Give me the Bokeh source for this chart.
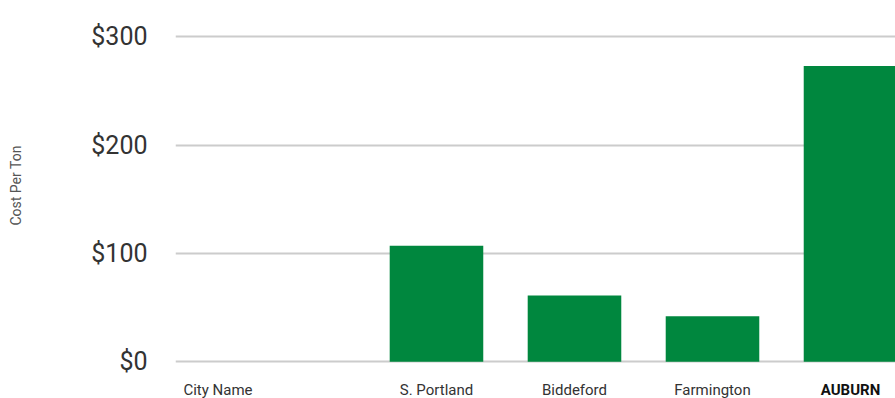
from bokeh.plotting import figure
from bokeh.models import ColumnDataSource, Range1d, FixedTicker, Title
from bokeh.core.properties import value
from bokeh.embed import file_html
from bokeh.resources import INLINE

# ---- data ----
header_label = "City Name"
cities = ["S. Portland", "Biddeford", "Farmington", "AUBURN"]
cost_per_ton = [107, 61, 42, 273]
highlight_city = "AUBURN"
y_ticks = [0, 100, 200, 300]
y_tick_labels = ["$0", "$100", "$200", "$300"]
y_title = "Cost Per Ton"

FONT = "Roboto"
GREEN = "#00873E"

PX_PER_UNIT = 325 / 300.0          # vertical scale of the reference
label_row = -28 / PX_PER_UNIT       # category labels sit ~28px below $0

xs = list(range(len(cities)))
src = ColumnDataSource(dict(x=xs, top=cost_per_ton))

p = figure(width=895, height=398, output_backend="svg", toolbar_location=None,
           x_axis_location=None,
           x_range=Range1d(-1.891, len(cities) - 1 + 0.326),
           y_range=Range1d(-34, 302),
           min_border_left=175, min_border_right=0,
           min_border_top=34, min_border_bottom=0)

p.vbar(x="x", top="top", width=0.678, bottom=0, source=src,
       fill_color=GREEN, line_color=None)

p.outline_line_color = None
p.background_fill_color = "white"
p.border_fill_color = "white"

# y axis
p.yaxis.ticker = FixedTicker(ticks=y_ticks)
p.yaxis.major_label_overrides = {t: l for t, l in zip(y_ticks, y_tick_labels)}
p.yaxis.axis_line_color = None
p.yaxis.major_tick_line_color = None
p.yaxis.minor_tick_line_color = None
p.yaxis.major_label_text_font = FONT
p.yaxis.major_label_text_font_size = "25px"
p.yaxis.major_label_text_color = "#333333"
p.yaxis.major_label_standoff = 22
# blank spacer label widens the axis panel so the title sits at the far left
p.yaxis.axis_label = "\u2009"
p.yaxis.axis_label_text_font_size = "14px"
p.yaxis.axis_label_standoff = 41

p.xgrid.grid_line_color = None
p.ygrid.ticker = FixedTicker(ticks=y_ticks)
p.ygrid.grid_line_color = "#cccccc"
p.ygrid.grid_line_width = 2

# y title
p.add_layout(Title(text=y_title, align="left", offset=173, standoff=10,
                   text_font=FONT, text_font_size="14px",
                   text_font_style="normal", text_color="#555555"), "left")

# category labels (row under the bars)
header_pos = -1.583
normal = [c for c in cities if c != highlight_city]
p.text(x=[header_pos] + [cities.index(c) for c in normal],
       y=[label_row] * (len(normal) + 1),
       text=[header_label] + normal,
       text_align="center", text_baseline="middle",
       text_font=value(FONT), text_font_size=value("15px"), text_color="#333333")
p.text(x=[cities.index(highlight_city)], y=[label_row], text=[highlight_city],
       text_align="center", text_baseline="middle",
       text_font=value(FONT), text_font_size=value("15px"),
       text_font_style="bold", text_color="#111111")

open("out.html", "w").write(file_html(p, INLINE))
